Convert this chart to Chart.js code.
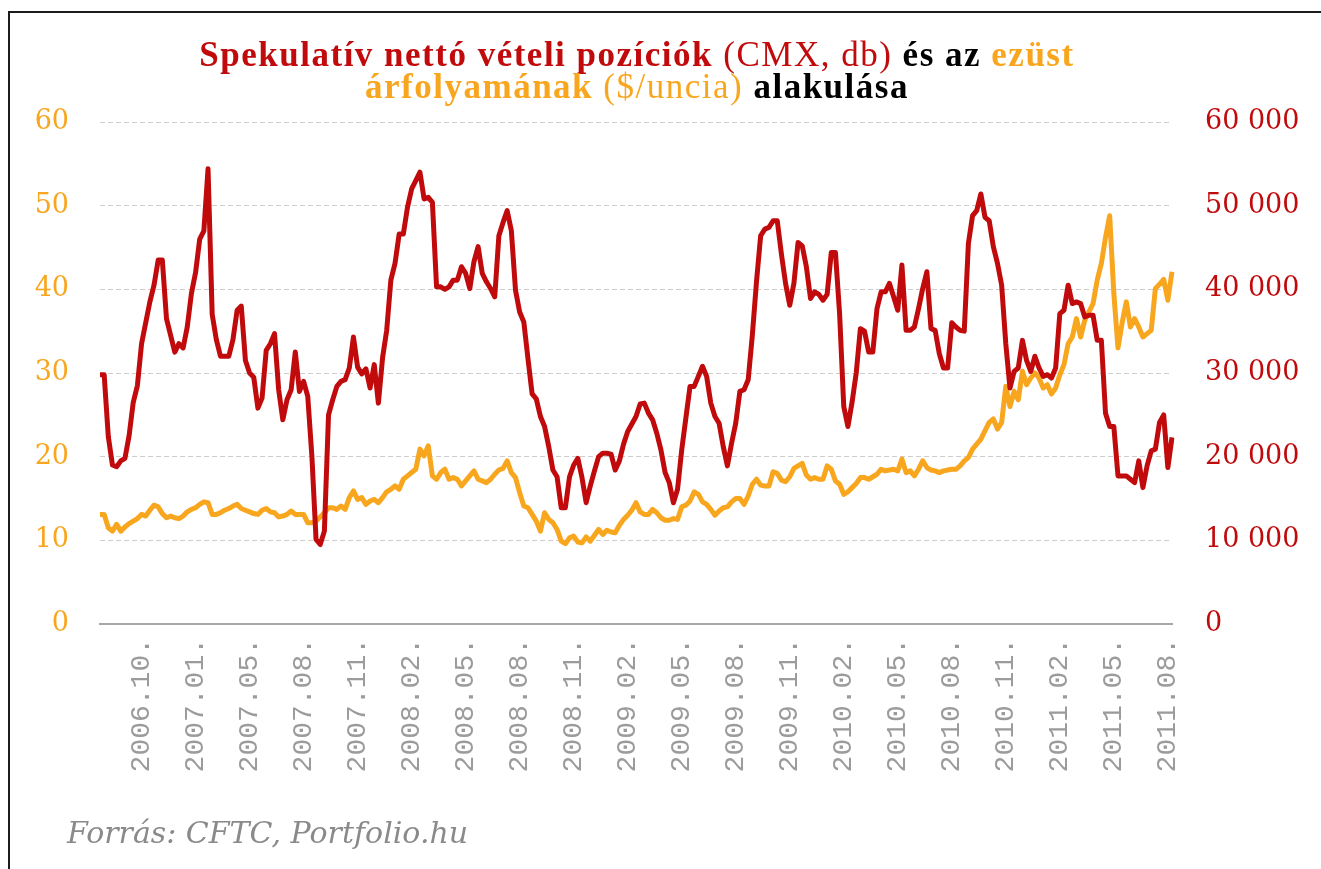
<!DOCTYPE html>
<html lang="hu">
<head>
<meta charset="utf-8">
<title>Spekulatív nettó vételi pozíciók és az ezüst árfolyama</title>
<script src="https://cdn.jsdelivr.net/npm/chart.js@4.4.1/dist/chart.umd.min.js"></script>
<style>
  html, body { margin: 0; padding: 0; background: #fff; overflow: hidden; }
  #wrap { position: relative; width: 1321px; height: 869px; }
  #frame {
    position: absolute; left: 8px; top: 11px; width: 1400px; height: 1000px;
    border-left: 2px solid #1c1c1c; border-top: 2px solid #1c1c1c;
  }
  #chart { position: absolute; left: 0; top: 0; }
  #title {
    position: absolute; left: 0; top: 39px; width: 1274px;
    text-align: center; font-family: "Liberation Serif", serif;
    font-size: 35px; line-height: 32px; letter-spacing: 1.5px; color: #000;
  }
  #title b { font-weight: bold; }
  #title .r { color: #c00a0c; }
  #title .o { color: #f9a61f; }
  #title .n { font-weight: normal; }
  #source {
    position: absolute; left: 67px; top: 815px;
    font-family: "DejaVu Serif", serif; font-style: italic;
    font-size: 30px; color: #8a8a8a;
  }
</style>
</head>
<body>
<div id="wrap">
  <div id="frame"></div>
  <canvas id="chart" width="1321" height="869"></canvas>
  <div id="title">
    <b class="r">Spekulatív nettó vételi pozíciók</b> <span class="r n">(CMX, db)</span> <b>és az</b> <b class="o">ezüst</b><br>
    <b class="o">árfolyamának</b> <span class="o n">($/uncia)</span> <b>alakulása</b>
  </div>
  <div id="source">Forrás: CFTC, Portfolio.hu</div>
</div>
<script>
// heti adatok, 2006 aug. - 2011 aug.
// spekulatív nettó vételi pozíciók (COMEX, db)
const netLong = [
  29800, 29800, 22400, 19000, 18800, 19500, 19800, 22500, 26500, 28500,
  33500, 36000, 38500, 40500, 43500, 43500, 36500, 34500, 32500, 33500,
  33000, 35500, 39500, 42000, 46000, 47000, 54400, 37000, 34000, 32000,
  32000, 32000, 34000, 37500, 38000, 31500, 30000, 29500, 25800, 27000,
  32700, 33500, 34700, 28000, 24400, 26800, 28000, 32500, 27800, 29000,
  27200, 20000, 10100, 9500, 11100, 25000, 26800, 28400, 29000, 29200,
  30600, 34300, 30700, 29900, 30500, 28200, 31000, 26400, 31800, 35100,
  41100, 43100, 46600, 46600, 49800, 52000, 53000, 54000, 50800, 51000,
  50400, 40300, 40300, 40000, 40300, 41100, 41100, 42700, 41900, 40100,
  43300, 45100, 41900, 40900, 40100, 39100, 46400, 48000, 49400, 47000,
  39900, 37300, 36100, 31700, 27500, 26900, 24800, 23600, 21200, 18400,
  17600, 13900, 13900, 17600, 19000, 19800, 17500, 14500, 16500, 18300,
  20000, 20400, 20400, 20300, 18400, 19500, 21500, 23000, 23900, 24800,
  26300, 26400, 25200, 24400, 22800, 20800, 18100, 16900, 14500, 16100,
  20800, 24600, 28400, 28400, 29600, 30800, 29600, 26400, 24800, 24000,
  21200, 18900, 21600, 24000, 27800, 28000, 29200, 34500, 40900, 46400,
  47200, 47400, 48200, 48200, 44200, 40700, 38100, 40700, 45600, 45200,
  42700, 38900, 39700, 39400, 38700, 39400, 44400, 44400, 37100, 26000,
  23600, 26500, 30000, 35300, 35000, 32500, 32500, 37700, 39700, 39700,
  40700, 39100, 37500, 42900, 35100, 35100, 35500, 37700, 40100, 42100,
  35300, 35100, 32300, 30600, 30600, 36000, 35500, 35100, 35000, 45500,
  48800, 49400, 51400, 48600, 48200, 45100, 43100, 40500, 33500, 28200,
  30200, 30600, 33900, 31500, 30200, 32000, 30600, 29600, 29800, 29400,
  30600, 37100, 37500, 40500, 38300, 38500, 38300, 36700, 36900, 36900,
  33900, 33900, 25200, 23600, 23600, 17700, 17700, 17700, 17300, 16900,
  19500, 16300, 18900, 20700, 20900, 24100, 25000, 18700, 22300
];

// ezüst árfolyam ($/uncia)
const silver = [
  13.1, 13.1, 11.5, 11.1, 11.9, 11.1, 11.6, 12.0, 12.3, 12.6,
  13.1, 12.9, 13.6, 14.2, 14.0, 13.2, 12.7, 12.9, 12.7, 12.6,
  12.9, 13.4, 13.7, 13.9, 14.3, 14.6, 14.5, 13.1, 13.1, 13.3,
  13.6, 13.8, 14.1, 14.3, 13.8, 13.6, 13.4, 13.2, 13.1, 13.6,
  13.8, 13.4, 13.3, 12.8, 12.9, 13.1, 13.5, 13.1, 13.1, 13.1,
  12.1, 12.1, 12.3, 12.8, 13.3, 13.9, 13.9, 13.7, 14.1, 13.7,
  15.1, 15.9, 14.9, 15.1, 14.3, 14.7, 14.9, 14.5, 15.1, 15.8,
  16.1, 16.5, 16.1, 17.3, 17.7, 18.1, 18.5, 20.9, 20.1, 21.3,
  17.7, 17.3, 18.1, 18.5, 17.3, 17.5, 17.3, 16.5, 17.1, 17.7,
  18.3, 17.3, 17.1, 16.9, 17.3, 17.9, 18.4, 18.6, 19.5, 18.1,
  17.5, 15.7, 14.1, 13.9, 13.1, 12.3, 11.1, 13.3, 12.5, 12.1,
  11.3, 9.9, 9.6, 10.3, 10.5, 9.8, 9.7, 10.4, 9.9, 10.6,
  11.3, 10.7, 11.2, 11.0, 10.9, 11.8, 12.5, 13.0, 13.6, 14.5,
  13.4, 13.1, 13.1, 13.7, 13.3, 12.7, 12.4, 12.4, 12.6, 12.5,
  14.0, 14.2, 14.7, 15.8, 15.5, 14.6, 14.3, 13.7, 13.0, 13.5,
  13.9, 14.0, 14.6, 15.0, 15.0, 14.3, 15.3, 16.7, 17.3, 16.6,
  16.5, 16.5, 18.2, 18.0, 17.2, 17.0, 17.6, 18.6, 18.9, 19.2,
  17.8, 17.3, 17.5, 17.3, 17.3, 18.9, 18.5, 17.1, 16.7, 15.5,
  15.8, 16.3, 16.8, 17.5, 17.5, 17.3, 17.6, 17.9, 18.5, 18.3,
  18.4, 18.5, 18.3, 19.7, 18.1, 18.3, 17.7, 18.5, 19.5, 18.7,
  18.4, 18.3, 18.1, 18.3, 18.4, 18.5, 18.5, 18.9, 19.5, 19.9,
  20.9, 21.5, 22.1, 23.1, 24.1, 24.5, 23.3, 24.1, 28.4, 26.0,
  27.8, 26.8, 30.2, 28.6, 29.4, 30.0, 29.4, 28.2, 28.6, 27.5,
  28.2, 29.8, 31.0, 33.5, 34.3, 36.5, 34.3, 36.3, 37.3, 38.3,
  41.1, 43.1, 46.2, 48.8, 39.5, 33.0, 36.0, 38.5, 35.5, 36.5,
  35.5, 34.3, 34.7, 35.1, 40.1, 40.6, 41.2, 38.7, 42.1
];

// a vízszintes tengely feliratai: minden 13. hét
const tickLabels = [
  '2006.10.', '2007.01.', '2007.05.', '2007.08.', '2007.11.',
  '2008.02.', '2008.05.', '2008.08.', '2008.11.', '2009.02.',
  '2009.05.', '2009.08.', '2009.11.', '2010.02.', '2010.05.',
  '2010.08.', '2010.11.', '2011.02.', '2011.05.', '2011.08.'
];
const firstTick = 10;
const tickStep = 13;

const weeks = silver.map((_, i) => {
  const k = (i - firstTick) / tickStep;
  return (i >= firstTick && Number.isInteger(k) && k < tickLabels.length) ? tickLabels[k] : '';
});

const RED = '#c00a0c';
const ORANGE = '#f9a61f';
const tickFont = { family: 'DejaVu Serif', size: 27 };

const config = {
    type: 'line',
    data: {
        labels: weeks,
        datasets: [
            {
                label: 'Spekulatív nettó vételi pozíciók (CMX, db)',
                data: netLong,
                yAxisID: 'yNet',
                borderColor: RED,
                borderWidth: 5,
                pointRadius: 0,
                tension: 0,
                borderJoinStyle: 'round'
            },
            {
                label: 'Ezüst árfolyam ($/uncia)',
                data: silver,
                yAxisID: 'ySilver',
                borderColor: ORANGE,
                borderWidth: 5,
                pointRadius: 0,
                tension: 0,
                borderJoinStyle: 'round'
            }
        ]
    },
    options: {
        responsive: false,
        devicePixelRatio: 1,
        animation: false,
        layout: { padding: { top: 122, left: 0, right: 0, bottom: 0 } },
        plugins: {
            legend: { display: false },
            tooltip: { enabled: false },
            title: { display: false }
        },
        scales: {
            x: {
                type: 'category',
                offset: false,
                grid: { display: false, drawTicks: false },
                border: { display: true, color: '#a8a8a8', width: 2 },
                ticks: {
                    autoSkip: false,
                    minRotation: 90,
                    maxRotation: 90,
                    padding: 14,
                    color: '#9b9b9b',
                    font: { family: 'Liberation Mono', size: 28 },
                    callback: (v, i) => weeks[i]
                },
                afterFit: scale => { scale.height = 245; }
            },
            ySilver: {
                position: 'left',
                min: 0,
                max: 60,
                ticks: { stepSize: 10, color: ORANGE, font: tickFont, padding: 31 },
                grid: { color: '#cdcdcd', lineWidth: 1, drawTicks: false },
                border: { display: false, dash: [5, 3] },
                afterFit: scale => { scale.width = 100; }
            },
            yNet: {
                position: 'right',
                min: 0,
                max: 60000,
                ticks: {
                    stepSize: 10000,
                    color: RED,
                    font: tickFont,
                    padding: 33,
                    callback: v => v.toLocaleString('en-US').replace(/,/g, ' ')
                },
                grid: { display: false, drawTicks: false },
                border: { display: false },
                afterFit: scale => { scale.width = 149; }
            }
        }
    }
};

new Chart(document.getElementById('chart'), config);
</script>
</body>
</html>
